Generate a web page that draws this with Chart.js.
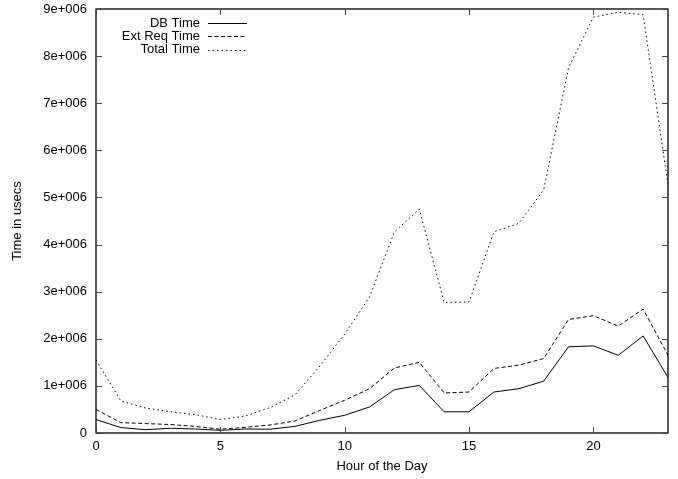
<!DOCTYPE html>
<html>
<head>
<meta charset="utf-8">
<script src="https://cdn.jsdelivr.net/npm/chart.js@4/dist/chart.umd.min.js"></script>
<style>
html,body{margin:0;padding:0;background:#fff;}
#wrap{width:678px;height:479px;position:relative;}
</style>
</head>
<body>
<div id="wrap"><canvas id="c" width="678" height="479"></canvas></div>
<script>
const hours = [0,1,2,3,4,5,6,7,8,9,10,11,12,13,14,15,16,17,18,19,20,21,22,23];
const dbTime = [285000,115000,70000,100000,85000,57000,85000,80000,140000,270000,376000,553000,920000,1010000,450000,450000,870000,940000,1100000,1830000,1850000,1650000,2060000,1180000];
const extReqTime = [500000,220000,200000,180000,140000,80000,120000,170000,255000,480000,695000,940000,1380000,1500000,850000,870000,1370000,1440000,1580000,2410000,2490000,2270000,2630000,1650000];
const totalTime = [1550000,680000,530000,450000,390000,285000,360000,540000,810000,1420000,2100000,2890000,4270000,4750000,2770000,2780000,4270000,4450000,5160000,7750000,8830000,8930000,8880000,5270000];
const xTicks = [0,5,10,15,20];
const yTicks = [0,1e6,2e6,3e6,4e6,5e6,6e6,7e6,8e6,9e6];
const seriesNames = ['DB Time','Ext Req Time','Total Time'];

const FONT = 'Liberation Sans, Arial, sans-serif';
const pts = arr => hours.map((h,i)=>({x:h,y:arr[i]}));

const framePlugin = {
  id:'frame',
  afterDatasetsDraw(chart){
    const ctx = chart.ctx, a = chart.chartArea;
    const xs = chart.scales.x, ys = chart.scales.y;
    ctx.save();
    ctx.strokeStyle = '#000';
    ctx.lineWidth = 1.3;
    ctx.strokeRect(a.left, a.top, a.right-a.left, a.bottom-a.top);
    ctx.lineWidth = 1;
    ctx.strokeStyle = '#444';
    const L = 6;
    ctx.beginPath();
    xTicks.forEach(v=>{
      const px = Math.round(xs.getPixelForValue(v))+0.5;
      ctx.moveTo(px, a.bottom); ctx.lineTo(px, a.bottom-L);
      ctx.moveTo(px, a.top); ctx.lineTo(px, a.top+L);
    });
    yTicks.forEach(v=>{
      const py = Math.round(ys.getPixelForValue(v))+0.5;
      ctx.moveTo(a.left, py); ctx.lineTo(a.left+L, py);
      ctx.moveTo(a.right, py); ctx.lineTo(a.right-L, py);
    });
    ctx.stroke();
    // legend
    ctx.font = '13px ' + FONT;
    ctx.textAlign = 'right';
    ctx.textBaseline = 'middle';
    const rows = [23, 36, 49.5];
    chart.data.datasets.forEach((ds,i)=>{
      const y = rows[i];
      ctx.fillStyle = '#000';
      ctx.fillText(ds.label, 200, y);
      ctx.beginPath();
      ctx.setLineDash(ds.borderDash || []);
      ctx.strokeStyle = '#000';
      ctx.lineWidth = 1;
      ctx.moveTo(208, Math.round(y)+0.5);
      ctx.lineTo(247, Math.round(y)+0.5);
      ctx.stroke();
    });
    ctx.setLineDash([]);
    ctx.restore();
  }
};

new Chart(document.getElementById('c'), {
  type:'line',
  data:{
    datasets:[
      {label:seriesNames[0], data:pts(dbTime), borderColor:'#000', borderWidth:1, pointRadius:0, tension:0, fill:false},
      {label:seriesNames[1], data:pts(extReqTime), borderColor:'#000', borderWidth:1, borderDash:[4,2.5], pointRadius:0, tension:0, fill:false},
      {label:seriesNames[2], data:pts(totalTime), borderColor:'#000', borderWidth:1, borderDash:[1.5,3], pointRadius:0, tension:0, fill:false}
    ]
  },
  options:{
    responsive:false,
    animation:false,
    layout:{padding:{left:0,right:10,top:9,bottom:0}},
    plugins:{legend:{display:false}, tooltip:{enabled:false}},
    scales:{
      x:{
        type:'linear', min:0, max:23,
        afterBuildTicks(s){ s.ticks = xTicks.map(v=>({value:v})); },
        afterFit(s){ s.height = 46; s.paddingLeft = 0; s.paddingRight = 0; },
        grid:{display:false, drawTicks:false},
        border:{display:false},
        ticks:{color:'#000', font:{family:FONT,size:13}, padding:6, maxRotation:0, autoSkip:false},
        title:{display:true, text:'Hour of the Day', color:'#000', font:{family:FONT,size:13}, padding:{top:4,bottom:4.5}}
      },
      y:{
        type:'linear', min:0, max:9e6,
        afterBuildTicks(s){ s.ticks = yTicks.map(v=>({value:v})); },
        afterFit(s){ s.width = 96; s.paddingTop = 0; s.paddingBottom = 0; },
        grid:{display:false, drawTicks:false},
        border:{display:false},
        ticks:{color:'#000', font:{family:FONT,size:13}, padding:9, autoSkip:false,
          callback:v => v===0 ? '0' : (v/1e6)+'e+006'},
        title:{display:true, text:'Time in usecs', color:'#000', font:{family:FONT,size:13}, padding:{top:10,bottom:0}}
      }
    }
  },
  plugins:[framePlugin]
});
</script>
</body>
</html>
